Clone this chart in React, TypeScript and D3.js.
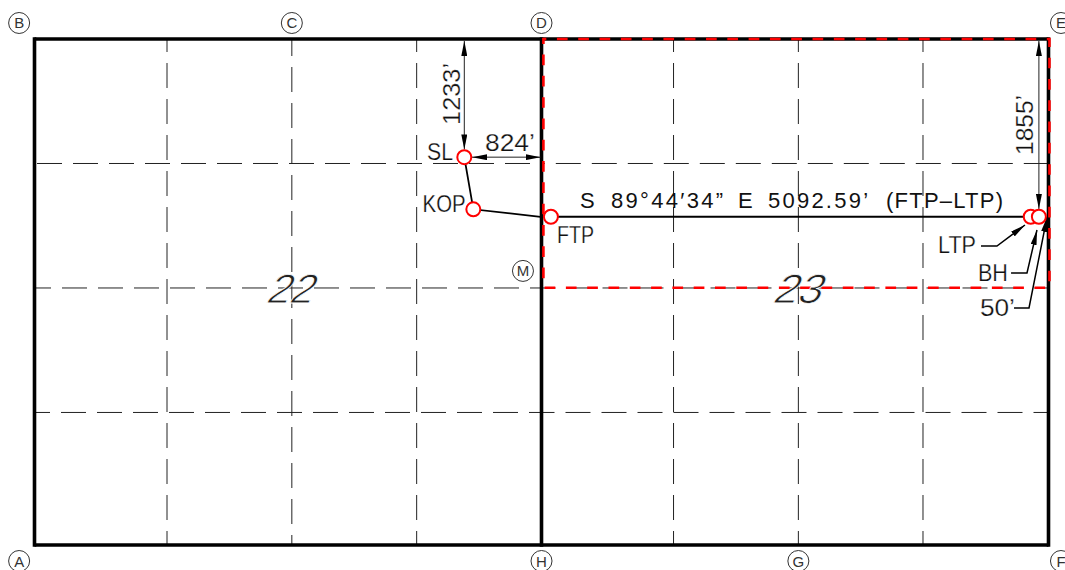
import { useEffect, useRef } from 'react';
import * as d3 from 'd3';

// Everything is in survey feet: x east of the west section line, y south of the north line
const sectionLinesX = [0, 5280, 10560];
const sectionLinesY = [0, 5280];
const quarterLinesX = [1380, 2680, 3980, 6655, 7955, 9253];
const quarterLinesY = [1299, 2598, 3897];
const leaseBox = [5300, 10570, 0, 2595];

const cornerNames = ['B', 'C', 'D', 'E', 'A', 'H', 'G', 'F', 'M'];
const cornerX = [-160, 2680, 5280, 10690, -160, 5280, 7955, 10690, 5087];
const cornerY = [-167, -167, -167, -167, 5447, 5447, 5447, 5447, 2420];

const wellNames = ['SL', 'KOP', 'FTP', 'LTP', 'BH'];
const wellX = [4476, 4570, 5378, 10375, 10460];
const wellY = [1233, 1777, 1855, 1855, 1855];

const labelTexts = ['SL', 'KOP', 'FTP', 'LTP', 'BH', '50\u2019', '1233\u2019', '824\u2019', '1855\u2019'];
const labelX = [4088, 4042, 5441, 9409, 9825, 9846, 4431, 4691, 10398];
const labelY = [1263, 1805, 2129, 2233, 2525, 2890, 897, 1169, 1210];
const labelRotate = [0, 0, 0, 0, 0, 0, -90, 0, -90];
const labelWidth = [26, 43, 37, 38, 30, 35, 62, 50, 60];

const bearingParts = ['S', '89\u00b044\u203234\u201d', 'E', '5092.59\u2019', '(FTP\u2013LTP)'];
const bearingX = [5681, 6004, 7326, 7639, 8868];
const bearingWidth = [13, 112, 13, 100, 117];

const sectionNames = ['22', '23'];
const sectionNameX = [2640, 7925];
const sectionNameWidth = [46, 48];

const leaderLTP: [number, number][] = [[9857, 2160], [10023, 2160], [10315, 1941]];
const leaderBH: [number, number][] = [[10170, 2442], [10336, 2442], [10440, 1993]];
const leader50: [number, number][] = [[10201, 2807], [10357, 2807], [10545, 1857]];

const RED = '#ff0000';

export default function App() {
  const svgRef = useRef<SVGSVGElement>(null);

  useEffect(() => {
    if (!svgRef.current) return;
    const svg = d3.select(svgRef.current);
    svg.selectAll('*').remove();

    const x = d3.scaleLinear().domain([0, 10560]).range([34.5, 1048.5]);
    const y = d3.scaleLinear().domain([0, 5280]).range([39, 545]);
    const font = '"Liberation Sans", Arial, sans-serif';

    const marker = svg.append('defs').append('marker')
      .attr('id', 'arrow')
      .attr('viewBox', '0 0 15 6')
      .attr('refX', 15)
      .attr('refY', 3)
      .attr('markerWidth', 15)
      .attr('markerHeight', 6)
      .attr('markerUnits', 'userSpaceOnUse')
      .attr('orient', 'auto-start-reverse');
    marker.append('path').attr('d', 'M0,0L15,3L0,6Z').attr('fill', '#000');

    // Quarter lines, phases of the dashes differ line by line
    const dash = svg.append('g').attr('fill', 'none').attr('stroke', '#222').attr('stroke-width', 1).attr('stroke-dasharray', '25,11');
    const vOffset = [12, 8, 12, 12, 12, 12];
    const hOffsetLeft = [33.5, 8.5, 9.5];
    const hOffsetRight = [21.7, 11, 12];
    quarterLinesX.forEach((q, i) => {
      dash.append('line')
        .attr('x1', x(q)).attr('x2', x(q))
        .attr('y1', y(0)).attr('y2', y(5280))
        .attr('stroke-dashoffset', vOffset[i]);
    });
    quarterLinesY.forEach((q, i) => {
      dash.append('line')
        .attr('x1', x(0)).attr('x2', x(5280))
        .attr('y1', y(q)).attr('y2', y(q))
        .attr('stroke-dashoffset', hOffsetLeft[i]);
      dash.append('line')
        .attr('x1', x(5280)).attr('x2', x(10560))
        .attr('y1', y(q)).attr('y2', y(q))
        .attr('stroke-dashoffset', hOffsetRight[i]);
    });

    // Section lines
    const section = svg.append('g').attr('fill', 'none').attr('stroke', '#000').attr('stroke-width', 3.6);
    sectionLinesX.forEach(s => {
      section.append('line').attr('x1', x(s)).attr('x2', x(s)).attr('y1', y(0) - 1.8).attr('y2', y(5280) + 1.8);
    });
    sectionLinesY.forEach(s => {
      section.append('line').attr('x1', x(0)).attr('x2', x(10560)).attr('y1', y(s)).attr('y2', y(s));
    });

    // Well path, it breaks at the section line and starts again at FTP
    const path = d3.line<[number, number]>().x(d => x(d[0])).y(d => y(d[1]));
    const pathGroup = svg.append('g').attr('fill', 'none').attr('stroke', '#000').attr('stroke-width', 1.8);
    pathGroup.append('path').attr('d', path([[wellX[0], wellY[0]], [wellX[1], wellY[1]], [5270, wellY[2]]]));
    pathGroup.append('path').attr('d', path([[wellX[2], wellY[2]], [wellX[4], wellY[4]]]));

    // Lease outline
    const [l, r, t, b] = leaseBox;
    svg.append('rect')
      .attr('x', x(l)).attr('y', y(t))
      .attr('width', x(r) - x(l)).attr('height', y(b) - y(t))
      .attr('fill', 'none')
      .attr('stroke', RED)
      .attr('stroke-width', 2.6)
      .attr('stroke-dasharray', '10.7,10.6')
      .attr('stroke-dashoffset', 7.8);

    // Dimension lines
    const dims = svg.append('g').attr('fill', 'none').attr('stroke', '#222').attr('stroke-width', 1);
    const dimLine = (x1: number, y1: number, x2: number, y2: number) =>
      dims.append('line')
        .attr('x1', x(x1)).attr('y1', y(y1)).attr('x2', x(x2)).attr('y2', y(y2))
        .attr('marker-start', 'url(#arrow)').attr('marker-end', 'url(#arrow)');
    dimLine(wellX[0], 20, wellX[0], wellY[0] - 80);
    dimLine(wellX[0] + 80, wellY[0], 5270, wellY[0]);
    dimLine(wellX[4], 20, wellX[4], wellY[4] - 80);

    // Leaders
    const leader = svg.append('g').attr('fill', 'none').attr('stroke', '#000').attr('stroke-width', 1.5);
    [leaderLTP, leaderBH, leader50].forEach(d => {
      leader.append('path').attr('d', path(d)).attr('marker-end', 'url(#arrow)');
    });

    // Well circles
    svg.append('g').selectAll('circle')
      .data(wellNames)
      .join('circle')
      .attr('cx', (_, i) => x(wellX[i]))
      .attr('cy', (_, i) => y(wellY[i]))
      .attr('r', 7)
      .attr('fill', '#fff')
      .attr('stroke', RED)
      .attr('stroke-width', 2);

    // Corner letters
    const corners = svg.append('g');
    cornerNames.forEach((name, i) => {
      corners.append('circle')
        .attr('cx', x(cornerX[i])).attr('cy', y(cornerY[i]))
        .attr('r', 10.5)
        .attr('fill', 'none').attr('stroke', '#333').attr('stroke-width', 1);
      corners.append('text')
        .attr('x', x(cornerX[i])).attr('y', y(cornerY[i]) + 5.5)
        .attr('text-anchor', 'middle')
        .style('font-family', font).style('font-size', '15px').style('fill', '#333')
        .text(name);
    });

    // Labels
    labelTexts.forEach((text, i) => {
      svg.append('text')
        .attr('transform', `translate(${x(labelX[i])},${y(labelY[i])}) rotate(${labelRotate[i]})`)
        .attr('textLength', labelWidth[i])
        .attr('lengthAdjust', 'spacingAndGlyphs')
        .attr('stroke', '#fff')
        .attr('stroke-width', 0.25)
        .style('font-family', font).style('font-size', '24px').style('fill', '#111')
        .text(text);
    });

    bearingParts.forEach((text, i) => {
      svg.append('text')
        .attr('x', x(bearingX[i])).attr('y', y(1763))
        .attr('textLength', bearingWidth[i])
        .attr('lengthAdjust', 'spacing')
        .style('font-family', font).style('font-size', '22px').style('fill', '#111')
        .text(text);
    });

    sectionNames.forEach((name, i) => {
      svg.append('text')
        .attr('transform', `translate(${x(sectionNameX[i]) - sectionNameWidth[i] / 2},${y(2598) + 15}) skewX(-22)`)
        .attr('textLength', sectionNameWidth[i])
        .attr('lengthAdjust', 'spacingAndGlyphs')
        .attr('stroke', '#fff')
        .attr('stroke-width', 0.9)
        .style('font-family', font).style('font-size', '41px').style('fill', '#222')
        .text(name);
    });
  }, []);

  return (
    <svg
      ref={svgRef}
      width={1065}
      height={570}
      style={{ position: 'absolute', left: 0, top: 0, background: '#fff' }}
    />
  );
}
